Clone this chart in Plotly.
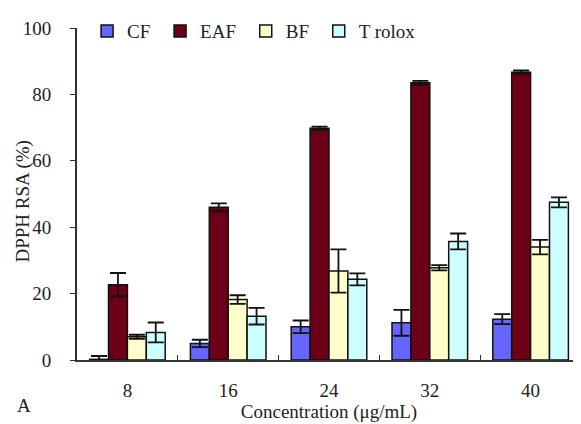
import plotly.graph_objects as go

categories = ["8", "16", "24", "32", "40"]
cf = [0.2, 5.0, 10.0, 11.2, 12.3]
cf_err = [1.0, 1.1, 1.9, 3.9, 1.5]
eaf = [22.7, 46.0, 69.8, 83.5, 86.7]
eaf_err = [3.5, 1.2, 0.5, 0.6, 0.5]
bf = [7.0, 18.2, 26.8, 27.8, 34.0]
bf_err = [0.6, 1.3, 6.5, 0.8, 2.2]
trolox = [8.3, 13.2, 24.3, 35.7, 47.5]
trolox_err = [3.0, 2.5, 1.8, 2.4, 1.5]
y_ticks = [0, 20, 40, 60, 80, 100]

series = [
    ("CF\u00a0", cf, cf_err, "#6666FF"),
    ("EAF\u00a0", eaf, eaf_err, "#6B0016"),
    ("BF\u00a0", bf, bf_err, "#FFFFCC"),
    ("T rolox", trolox, trolox_err, "#CCFFFF"),
]

FONT = "Liberation Serif, Times New Roman, serif"

fig = go.Figure()
for name, vals, errs, color in series:
    fig.add_trace(go.Bar(
        name=name, x=categories, y=vals,
        marker=dict(color=color, line=dict(color="#111111", width=1.5)),
        error_y=dict(type="data", array=errs, visible=True, color="#111111",
                     thickness=1.8, width=8),
    ))

fig.update_layout(
    width=573, height=416,
    margin=dict(l=69, r=0, t=20, b=64, autoexpand=False),
    paper_bgcolor="white", plot_bgcolor="white",
    barmode="group", bargap=0.25, bargroupgap=0,
    font=dict(family=FONT, size=19, color="#222222"),
    showlegend=True,
    legend=dict(orientation="h", xref="container", yref="container",
                x=0.138, y=0.990, xanchor="left", yanchor="top",
                font=dict(family=FONT, size=19, color="#222222"),
                bgcolor="rgba(0,0,0,0)", itemwidth=30, tracegroupgap=0),
    xaxis=dict(
        type="category", showline=True, linecolor="#333333", linewidth=2,
        ticks="inside", tickson="boundaries", ticklen=5, tickcolor="#333333",
        tickwidth=1, showgrid=False, zeroline=False,
        ticklabelstandoff=12,
        tickfont=dict(family=FONT, size=19),
        title=dict(text="Concentration (μg/mL)", font=dict(family=FONT, size=19),
                   standoff=5),
    ),
    yaxis=dict(
        range=[0, 100], tickvals=y_ticks, showline=True, linecolor="#333333",
        linewidth=2, ticks="outside", ticklen=5, tickcolor="#333333", tickwidth=1,
        showgrid=False, zeroline=False, ticklabelstandoff=15,
        tickfont=dict(family=FONT, size=19),
    ),
    annotations=[
        dict(text="DPPH RSA (%)", xref="paper", yref="paper", x=-0.108, y=0.476,
             xanchor="center", yanchor="middle", textangle=-90, showarrow=False,
             font=dict(family=FONT, size=19, color="#222222")),
        dict(text="A", xref="paper", yref="paper", x=-0.105, y=-0.136,
             xanchor="center", yanchor="middle", showarrow=False,
             font=dict(family=FONT, size=19, color="#222222")),
    ],
)

fig.write_html("out.html")
